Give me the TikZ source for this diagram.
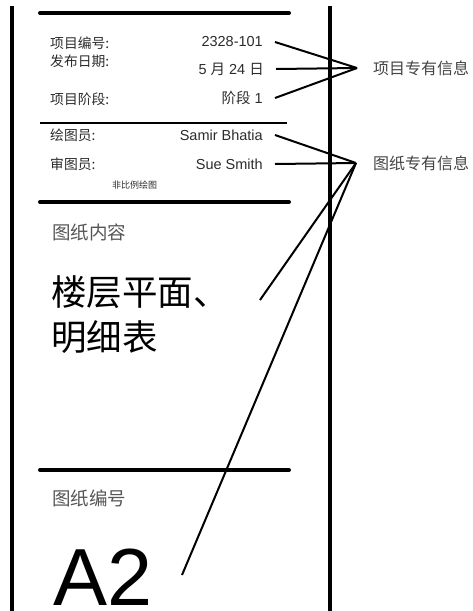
\documentclass[tikz,border=0pt]{standalone}
\usepackage{fontspec}
\setmainfont{Liberation Sans}
\newfontfamily\cjk{Noto Sans CJK SC}
\usetikzlibrary{positioning}
\definecolor{mDark}{HTML}{2B2B2B}
\definecolor{mMid}{HTML}{555555}
\definecolor{mNote}{HTML}{444444}

\begin{document}
\begin{tikzpicture}[x=1pt, y=-1pt,
    rule/.style={line width=4pt, line cap=round},
    field/.style={anchor=west, inner sep=0pt, text=mDark, font=\cjk\fontsize{13.8}{15}\selectfont},
    entry/.style={anchor=east, inner ysep=0pt, inner xsep=12pt, text=mDark, font=\fontsize{14.5}{16}\selectfont},
    heading/.style={anchor=west, inner sep=0pt, text=mMid, font=\cjk\fontsize{18.5}{20}\selectfont},
    note/.style={anchor=west, inner sep=0pt, text=mNote, font=\cjk\fontsize{16}{18}\selectfont},
    lead/.style={line width=2pt}]
    \useasboundingbox (0,0) rectangle (472,611);
    % frame of the title block
    \draw[line width=4pt] (12,6) -- (12,611);
    \draw[line width=4pt] (330,6) -- (330,611);
    \draw[rule] (40,13) -- (289,13);
    \draw[line width=1.3pt] (40,123) -- (287,123);
    \draw[rule] (40,202) -- (289,202);
    \draw[rule] (40,470) -- (289,470);
    % project fields
    \node[field] (f1) at (50,43) {项目编号:};
    \node[field] (f2) at (50,61) {发布日期:};
    \node[field] (f3) at (50,99) {项目阶段:};
    \node[entry] (v1) at (275,42) {2328-101};
    \node[entry] (v2) at (276,69) {5 {\cjk 月} 24 {\cjk 日}};
    \node[entry] (v3) at (275,98) {{\cjk 阶段} 1};
    % drawing fields
    \node[field] (f4) at (50,135) {绘图员:};
    \node[field] (f5) at (50,164) {审图员:};
    \node[entry] (v4) at (275,135) {Samir Bhatia};
    \node[entry] (v5) at (275,164) {Sue Smith};
    \node[anchor=west, inner sep=0pt, text=mDark, font=\cjk\fontsize{9}{10}\selectfont] (scale) at (112,185) {非比例绘图};
    % contents and number
    \node[heading] (h1) at (52,232) {图纸内容};
    \node[anchor=west, inner sep=0pt, font=\cjk\fontsize{35.5}{40}\selectfont] (c1) at (51,292) {楼层平面、};
    \node[anchor=west, inner sep=0pt, font=\cjk\fontsize{35.5}{40}\selectfont] (c2) at (51,337) {明细表};
    \node[heading] (h2) at (52,498) {图纸编号};
    \node[anchor=base west, inner sep=0pt, text depth=0pt, font=\fontsize{81}{90}\selectfont] (num) at (53,605.5) {A2};
    % callouts
    \coordinate (projpt) at (357,68);
    \coordinate (drawpt) at (356,163);
    \coordinate (c1end) at (260,300);
    \coordinate (numend) at (182,575);
    \node[note] (n1) at (373,68) {项目专有信息};
    \node[note] (n2) at (373,163) {图纸专有信息};
    \draw[lead] (v1.east) -- (projpt);
    \draw[lead] (v2.east) -- (projpt);
    \draw[lead] (v3.east) -- (projpt);
    \draw[lead] (v4.east) -- (drawpt);
    \draw[lead] (v5.east) -- (drawpt);
    \draw[lead] (drawpt) -- (c1end);
    \draw[lead] (drawpt) -- (numend);
  \end{tikzpicture}
\end{document}
